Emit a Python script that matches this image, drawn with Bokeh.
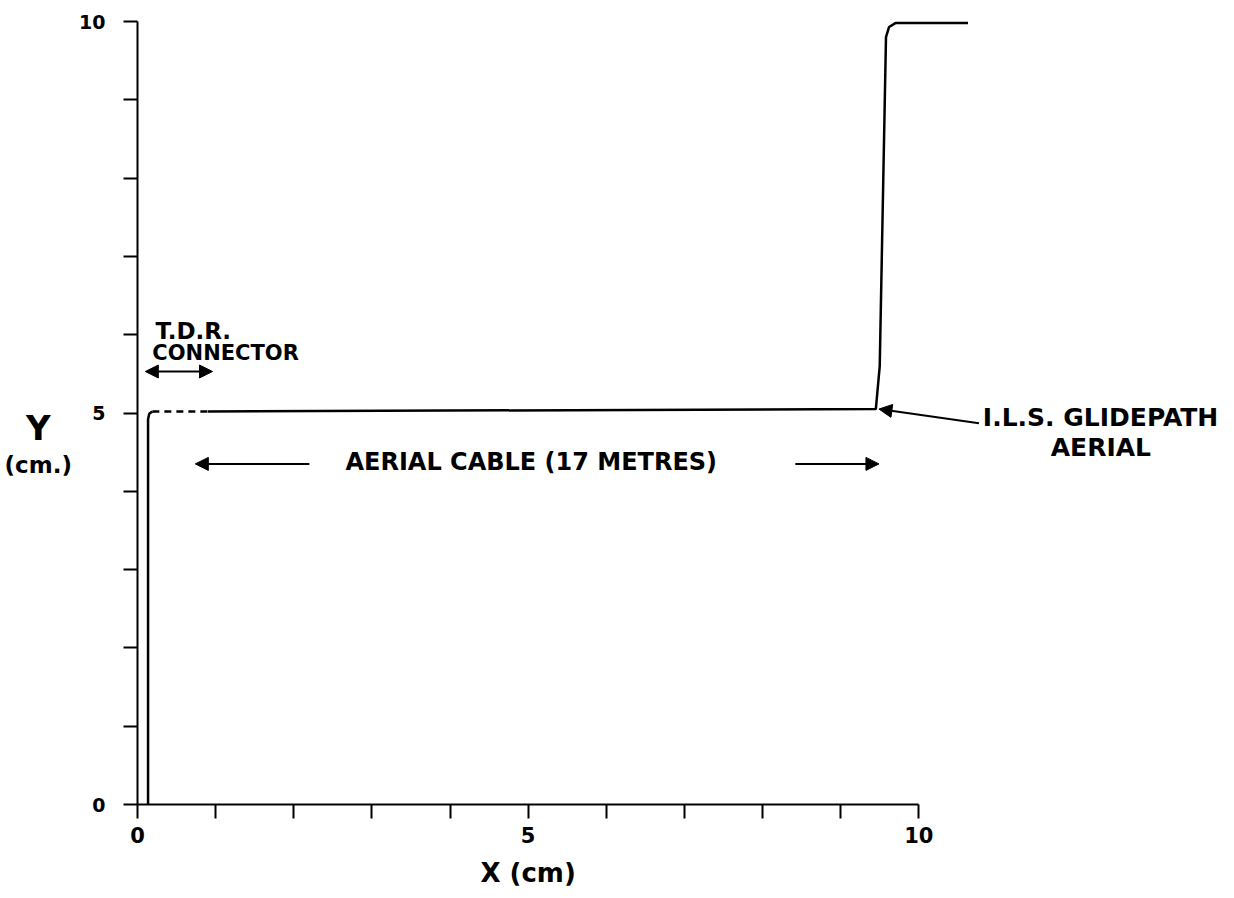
from bokeh.plotting import figure
from bokeh.models import Range1d, FixedTicker, Arrow, NormalHead, ColumnDataSource
from bokeh.core.properties import value
from bokeh.embed import file_html
from bokeh.resources import INLINE

# ---- data (cm on the recording) ----
rise_x = [0.135, 0.135, 0.15, 0.19]
rise_y = [0.0, 4.92, 4.99, 5.02]
dash_x = [0.19, 0.90]
dash_y = [5.02, 5.02]
cable_x = [0.90, 9.45, 9.50, 9.58, 9.62, 9.70, 10.63]
cable_y = [5.02, 5.05, 5.60, 9.80, 9.93, 9.98, 9.98]

x_ticks = [0, 1, 2, 3, 4, 5, 6, 7, 8, 9, 10]
x_tick_labels = {0: "0", 5: "5", 10: "10"}
y_ticks = [0, 1, 2, 3, 4, 5, 6, 7, 8, 9, 10]
y_tick_labels = {0: "0", 5: "5", 10: "10"}

title_text = ["X (cm)", "Y", "(cm.)"]
title_x = [5.0, -1.27, -1.27]
title_y = [-0.88, 4.81, 4.33]

note_text = ["T.D.R.", "CONNECTOR", "AERIAL CABLE (17 METRES)", "I.L.S. GLIDEPATH", "AERIAL"]
note_x = [0.23, 0.19, 5.04, 10.82, 12.33]
note_y = [6.05, 5.76, 4.38, 4.94, 4.56]

FONT = "DejaVu Sans"
note_align = ["left", "left", "center", "left", "center"]
note_size = ["23px", "21px", "24px", "25px", "25px"]
title_size = ["26px", "34px", "23px"]

W, H = 1225, 893
PX_X, PX_Y = 78.13, 78.3          # pixels per cm
X0, Y0 = 137, 804                 # pixel position of the origin
p = figure(width=W, height=H, output_backend="svg", toolbar_location=None,
           x_range=Range1d(-X0 / PX_X, (W - X0) / PX_X),
           y_range=Range1d(-(H - Y0) / PX_Y, Y0 / PX_Y),
           min_border=0, min_border_left=0, min_border_right=0,
           min_border_top=0, min_border_bottom=0)
p.outline_line_color = None
p.xgrid.visible = False
p.ygrid.visible = False
p.background_fill_color = "white"
p.border_fill_color = "white"

for ax in (p.xaxis[0], p.yaxis[0]):
    ax.fixed_location = 0
    ax.bounds = (0, 10)
    ax.axis_line_width = 2
    ax.axis_line_color = "black"
    ax.major_tick_out = 14
    ax.major_tick_in = 0
    ax.major_tick_line_width = 2
    ax.minor_tick_out = 0
    ax.minor_tick_in = 0
    ax.major_label_text_font = FONT
    ax.major_label_text_font_style = "bold"
    ax.major_label_text_color = "black"

p.xaxis.ticker = FixedTicker(ticks=x_ticks)
p.xaxis.major_label_overrides = {t: x_tick_labels.get(t, "") for t in x_ticks}
p.xaxis.major_label_text_font_size = "21px"
p.xaxis.major_label_standoff = 8

p.yaxis.ticker = FixedTicker(ticks=y_ticks)
p.yaxis.major_label_overrides = {t: y_tick_labels.get(t, "") for t in y_ticks}
p.yaxis.major_label_text_font_size = "19px"
p.yaxis.major_label_standoff = 18

# trace
p.line(rise_x, rise_y, line_color="black", line_width=2.5)
p.line(dash_x, dash_y, line_color="black", line_width=2.5, line_dash="7 5")
p.line(cable_x, cable_y, line_color="black", line_width=2.5)

# axis titles
tsrc = ColumnDataSource(dict(x=title_x, y=title_y, t=title_text, s=title_size))
p.text(x="x", y="y", text="t", text_align="center", text_baseline="middle", text_font_size="s",
       source=tsrc, text_font=value(FONT), text_font_style="bold", text_color="black")

# annotation texts
src = ColumnDataSource(dict(x=note_x, y=note_y, t=note_text, a=note_align, s=note_size))
p.text(x="x", y="y", text="t", text_align="a", text_baseline="middle", text_font_size="s",
       source=src, text_font=value(FONT), text_font_style="bold", text_color="black")

# arrows
def arrow(x0, y0, x1, y1, both=False):
    a = Arrow(end=NormalHead(size=13, fill_color="black", line_color="black"),
              x_start=x0, y_start=y0, x_end=x1, y_end=y1,
              line_width=2, line_color="black")
    if both:
        a.start = NormalHead(size=13, fill_color="black", line_color="black")
    p.add_layout(a)

arrow(2.20, 4.35, 0.74, 4.35)
arrow(8.42, 4.35, 9.49, 4.35)
arrow(0.10, 5.53, 0.96, 5.53, both=True)
arrow(10.77, 4.87, 9.49, 5.05)

open("out.html", "w").write(file_html(p, INLINE))
